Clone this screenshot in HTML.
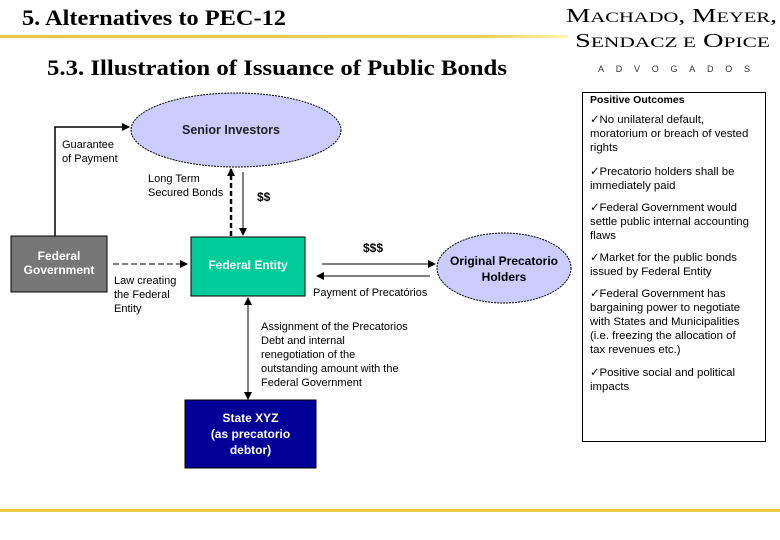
<!DOCTYPE html>
<html><head><meta charset="utf-8"><style>
html,body{margin:0;padding:0;background:#fff;}
body{width:780px;height:540px;overflow:hidden;position:relative;font-family:"Liberation Sans",Arial,sans-serif;}
.t{position:absolute;font-size:11px;color:#000;line-height:14px;white-space:nowrap;}
.p{font-size:11.4px;letter-spacing:0;}
</style></head><body>
<svg width="780" height="540" style="position:absolute;left:0;top:0">
<defs>
<linearGradient id="g" x1="0" x2="1"><stop offset="0" stop-color="#e8c840"/><stop offset="0.85" stop-color="#ecd050"/><stop offset="1" stop-color="#fff4b0"/></linearGradient>
<marker id="a" markerWidth="8" markerHeight="8" refX="7" refY="4" orient="auto" markerUnits="userSpaceOnUse"><path d="M0,0 L8,4 L0,8 z" fill="#000"/></marker>
</defs>
<rect x="0" y="35" width="568" height="3" fill="url(#g)"/>
<rect x="0" y="509" width="780" height="3" fill="#e8c840"/>
<text x="22" y="25" font-family="Liberation Serif,serif" font-weight="bold" font-size="22" textLength="264" lengthAdjust="spacingAndGlyphs">5. Alternatives to PEC-12</text>
<text x="47" y="75" font-family="Liberation Serif,serif" font-weight="bold" font-size="22" textLength="460" lengthAdjust="spacingAndGlyphs">5.3. Illustration of Issuance of Public Bonds</text>
<text x="566" y="22" font-family="Liberation Serif,serif" font-size="20" textLength="211" lengthAdjust="spacingAndGlyphs">M<tspan font-size="15">ACHADO</tspan>, M<tspan font-size="15">EYER</tspan>,</text>
<text x="575" y="47" font-family="Liberation Serif,serif" font-size="20" textLength="195" lengthAdjust="spacingAndGlyphs">S<tspan font-size="15">ENDACZ E</tspan> O<tspan font-size="15">PICE</tspan></text>
<text x="598" y="72" font-size="9" fill="#333" textLength="152" lengthAdjust="spacing">ADVOGADOS</text>
<rect x="582.5" y="92.5" width="183" height="349" fill="#fff" stroke="#000"/>
<ellipse cx="236" cy="130" rx="105" ry="37" fill="#ccccff" stroke="#000" stroke-dasharray="2,1"/>
<ellipse cx="504" cy="268" rx="67" ry="35" fill="#ccccff" stroke="#000" stroke-dasharray="2,1"/>
<rect x="11" y="236" width="96" height="56" fill="#777" stroke="#000"/>
<rect x="191" y="237" width="114" height="59" fill="#00cc99" stroke="#000"/>
<rect x="185" y="400" width="131" height="68" fill="#000099" stroke="#000"/>
<polyline points="55,236 55,127 129,127" fill="none" stroke="#000" stroke-width="1.5" marker-end="url(#a)"/>
<line x1="231" y1="236" x2="231" y2="169" stroke="#000" stroke-width="2.5" stroke-dasharray="5,3" marker-end="url(#a)"/>
<line x1="243" y1="172" x2="243" y2="235" stroke="#000" stroke-width="1" marker-end="url(#a)"/>
<line x1="113" y1="264" x2="187" y2="264" stroke="#000" stroke-width="1" stroke-dasharray="6,3" marker-end="url(#a)"/>
<line x1="322" y1="264" x2="435" y2="264" stroke="#000" stroke-width="1" marker-end="url(#a)"/>
<line x1="430" y1="276" x2="317" y2="276" stroke="#000" stroke-width="1" marker-end="url(#a)"/>
<line x1="248" y1="307" x2="248" y2="298" stroke="#000" marker-end="url(#a)"/>
<line x1="248" y1="300" x2="248" y2="399" stroke="#000" marker-end="url(#a)"/>
</svg>
<div class="t" style="left:182px;top:123px;font-size:12.5px;font-weight:bold;color:#222">Senior Investors</div>
<div class="t" style="left:62px;top:138px">Guarantee<br>of Payment</div>
<div class="t" style="left:148px;top:172px">Long Term<br>Secured Bonds</div>
<div class="t" style="left:257px;top:190px;font-size:12px;font-weight:bold">$$</div>
<div class="t" style="left:11px;top:249px;width:96px;text-align:center;font-size:12px;font-weight:bold;color:#fff">Federal<br>Government</div>
<div class="t" style="left:114px;top:274px">Law creating<br>the Federal<br>Entity</div>
<div class="t" style="left:191px;top:258px;width:114px;text-align:center;font-size:12px;font-weight:bold;color:#fff">Federal Entity</div>
<div class="t" style="left:363px;top:241px;font-size:12px;font-weight:bold">$$$</div>
<div class="t" style="left:437px;top:253px;width:134px;text-align:center;font-size:12px;font-weight:bold;line-height:16px">Original Precatorio<br>Holders</div>
<div class="t" style="left:313px;top:286px">Payment of Precatórios</div>
<div class="t" style="left:261px;top:320px">Assignment of the Precatorios<br>Debt and internal<br>renegotiation of the<br>outstanding amount with the<br>Federal Government</div>
<div class="t" style="left:185px;top:410px;width:131px;text-align:center;font-size:12px;font-weight:bold;color:#fff;line-height:16px">State XYZ<br>(as precatorio<br>debtor)</div>
<div class="t" style="left:590px;top:93px;font-weight:bold;font-size:10.5px">Positive Outcomes</div>
<div class="t p" style="left:590px;top:113px">✓No unilateral default,<br>moratorium or breach of vested<br>rights</div>
<div class="t p" style="left:590px;top:165px">✓Precatorio holders shall be<br>immediately paid</div>
<div class="t p" style="left:590px;top:201px">✓Federal Government would<br>settle public internal accounting<br>flaws</div>
<div class="t p" style="left:590px;top:251px">✓Market for the public bonds<br>issued by Federal Entity</div>
<div class="t p" style="left:590px;top:287px">✓Federal Government has<br>bargaining power to negotiate<br>with States and Municipalities<br>(i.e. freezing the allocation of<br>tax revenues etc.)</div>
<div class="t p" style="left:590px;top:366px">✓Positive social and political<br>impacts</div>
</body></html>
